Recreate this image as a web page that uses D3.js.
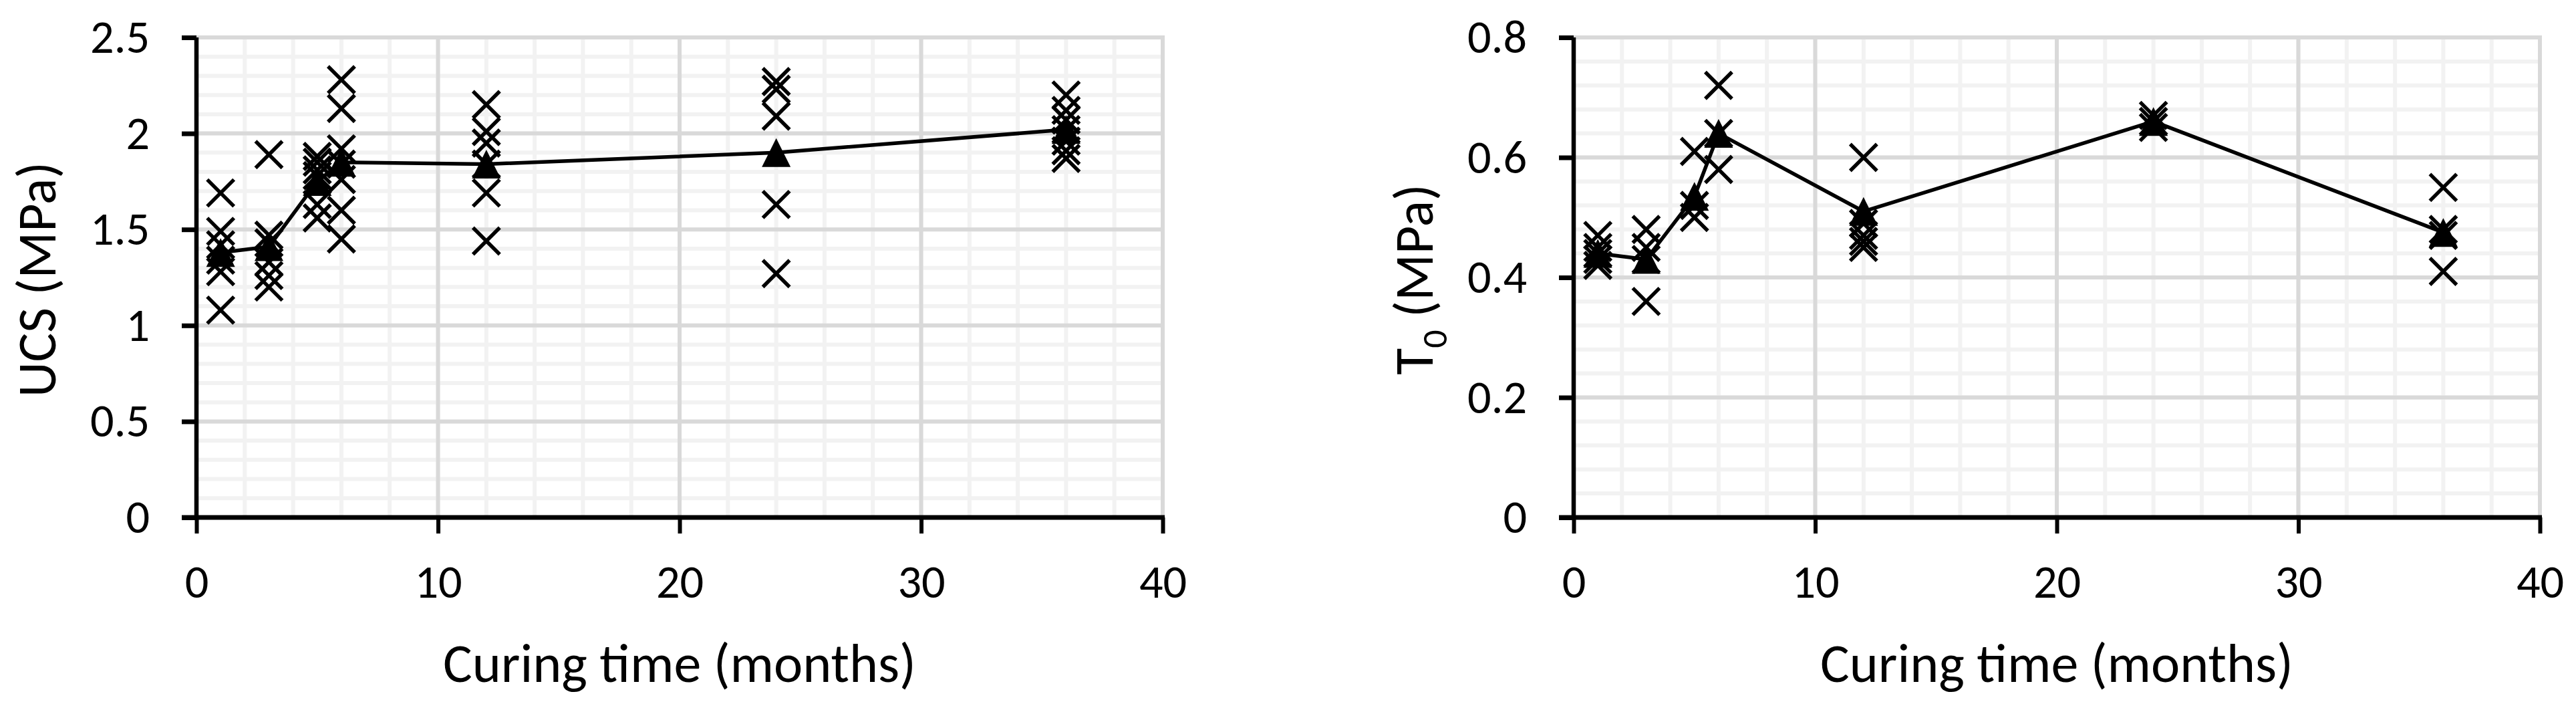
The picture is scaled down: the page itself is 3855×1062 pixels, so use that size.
<!DOCTYPE html>
<html>
<head>
<meta charset="utf-8">
<script src="https://cdn.jsdelivr.net/npm/d3@7"></script>
<style>
  html, body { margin: 0; padding: 0; background: #fff; }
  svg { display: block; }
</style>
</head>
<body>
<svg id="chart" width="3855" height="1062"></svg>
<script>
// ---------------- DATA ----------------
const months = [1, 3, 5, 6, 12, 24, 36];

// UCS (MPa) individual specimens per curing time
const ucsSamples = [
  [1.69, 1.49, 1.42, 1.34, 1.28, 1.08],
  [1.89, 1.47, 1.43, 1.33, 1.26, 1.20],
  [1.88, 1.85, 1.81, 1.78, 1.63, 1.56],
  [2.28, 2.13, 1.92, 1.84, 1.76, 1.60, 1.45],
  [2.15, 2.01, 1.95, 1.84, 1.69, 1.44],
  [2.27, 2.23, 2.09, 1.63, 1.27],
  [2.20, 2.12, 2.07, 2.02, 1.96, 1.91, 1.87]
];
// UCS mean values (triangles + line)
const ucsMean = [1.38, 1.41, 1.75, 1.85, 1.84, 1.90, 2.02];

// T0 (MPa) individual specimens per curing time
const t0Samples = [
  [0.47, 0.45, 0.44, 0.43, 0.42],
  [0.48, 0.45, 0.43, 0.36],
  [0.61, 0.52, 0.50],
  [0.72, 0.64, 0.58],
  [0.60, 0.49, 0.47, 0.46, 0.45],
  [0.67, 0.66, 0.65],
  [0.55, 0.48, 0.47, 0.41]
];
// T0 mean values
const t0Mean = [0.44, 0.43, 0.535, 0.64, 0.51, 0.66, 0.475];

// axis tick labels
const xTicks = [0, 10, 20, 30, 40];
const ucsTicks = [0, 0.5, 1, 1.5, 2, 2.5];
const t0Ticks = [0, 0.2, 0.4, 0.6, 0.8];
const xTitle = "Curing time (months)";

// ---------------- DRAWING ----------------
const svg = d3.select("#chart");
const FONT = "Carlito, Calibri, Lato, 'Open Sans', sans-serif";

function fitSize(txt, target) {
  const t = svg.append("text").attr("font-family", FONT).attr("font-size", 100).text(txt);
  const w = t.node().getComputedTextLength();
  t.remove();
  return 100 * target / w;
}
const tickSize = fitSize("2.5", 89);
const titleSize = fitSize(xTitle, 708);

function panel(opt) {
  const x = d3.scaleLinear().domain([0, 40]).range([opt.left, opt.left + 1446]);
  const y = d3.scaleLinear().domain([0, opt.ymax]).range([774, 56]);
  const g = svg.append("g");

  const xMinor = d3.range(0, 40.001, 2);
  const yMinor = d3.range(0, opt.ymax * 1.00001, opt.yMinorStep);

  // minor grid
  g.append("g").selectAll("line.hm").data(yMinor).join("line")
    .attr("x1", x(0)).attr("x2", x(40)).attr("y1", d => y(d)).attr("y2", d => y(d))
    .attr("stroke", "#f2f2f2").attr("stroke-width", 6);
  g.append("g").selectAll("line.vm").data(xMinor).join("line")
    .attr("y1", y(0)).attr("y2", y(opt.ymax)).attr("x1", d => x(d)).attr("x2", d => x(d))
    .attr("stroke", "#f2f2f2").attr("stroke-width", 6);
  // major grid
  g.append("g").selectAll("line").data(opt.yTicks).join("line")
    .attr("x1", x(0)).attr("x2", x(40) + 3).attr("y1", d => y(d)).attr("y2", d => y(d))
    .attr("stroke", "#d9d9d9").attr("stroke-width", 6);
  g.append("g").selectAll("line").data(xTicks).join("line")
    .attr("y1", y(0)).attr("y2", y(opt.ymax) - 3).attr("x1", d => x(d)).attr("x2", d => x(d))
    .attr("stroke", "#d9d9d9").attr("stroke-width", 6);

  // axes
  const yAxis = d3.axisLeft(y).tickValues(opt.yTicks).tickSize(22).tickPadding(48)
    .tickFormat(d => d3.format("~g")(d));
  const ya = g.append("g").attr("transform", `translate(${x(0)},0)`).call(yAxis);
  ya.select(".domain").attr("stroke", "#000").attr("stroke-width", 6.5)
    .attr("d", `M0,${y(0)}V${y(opt.ymax)}`);
  ya.selectAll(".tick line").attr("stroke", "#000").attr("stroke-width", 7);
  ya.selectAll(".tick text").attr("font-family", FONT).attr("font-size", tickSize)
    .attr("fill", "#000").attr("dy", "0.32em");

  const xAxis = d3.axisBottom(x).tickValues(xTicks).tickSize(24).tickPadding(70)
    .tickFormat(d3.format("d"));
  const xa = g.append("g").attr("transform", `translate(0,${y(0)})`).call(xAxis);
  xa.select(".domain").attr("stroke", "#000").attr("stroke-width", 7)
    .attr("d", `M${x(0) - 22},0H${x(40) + 3}`);
  xa.selectAll(".tick line").attr("stroke", "#000").attr("stroke-width", 6);
  xa.selectAll(".tick text").attr("font-family", FONT).attr("font-size", tickSize)
    .attr("fill", "#000").attr("dy", 0).attr("y", 120);

  // titles
  g.append("text").attr("x", (x(0) + x(40)) / 2).attr("y", 1020)
    .attr("text-anchor", "middle").attr("font-family", FONT).attr("font-size", titleSize)
    .attr("fill", "#000").text(xTitle);
  const yt = g.append("text")
    .attr("transform", `translate(${x(0) - 211},418) rotate(-90)`)
    .attr("text-anchor", "middle").attr("font-family", FONT).attr("font-size", titleSize)
    .attr("fill", "#000");
  opt.yTitle(yt);

  // sample crosses
  const pts = [];
  opt.samples.forEach((arr, i) => arr.forEach(v => pts.push([months[i], v])));
  const s = 20;
  g.append("g").selectAll("path").data(pts).join("path")
    .attr("transform", d => `translate(${x(d[0])},${y(d[1])})`)
    .attr("d", `M${-s},${-s}L${s},${s}M${-s},${s}L${s},${-s}`)
    .attr("stroke", "#000").attr("stroke-width", 5.5).attr("fill", "none");

  // mean line + triangles
  const line = d3.line().x((d, i) => x(months[i])).y(d => y(d));
  g.append("path").datum(opt.mean).attr("d", line)
    .attr("fill", "none").attr("stroke", "#000").attr("stroke-width", 5.5)
    .attr("stroke-linejoin", "round");
  const h = 21.5;
  g.append("g").selectAll("path").data(opt.mean).join("path")
    .attr("transform", (d, i) => `translate(${x(months[i])},${y(d)})`)
    .attr("d", `M0,${-h}L${h},${h}L${-h},${h}Z`)
    .attr("fill", "#000");
}

panel({
  left: 294, ymax: 2.5, yMinorStep: 0.1, yTicks: ucsTicks,
  samples: ucsSamples, mean: ucsMean,
  yTitle: t => t.text("UCS (MPa)")
});
panel({
  left: 2355, ymax: 0.8, yMinorStep: 0.04, yTicks: t0Ticks,
  samples: t0Samples, mean: t0Mean,
  yTitle: t => {
    t.append("tspan").text("T");
    t.append("tspan").attr("font-size", titleSize * 0.66).attr("dy", 21).text("0");
    t.append("tspan").attr("dy", -21).text(" (MPa)");
  }
});
</script>
</body>
</html>
